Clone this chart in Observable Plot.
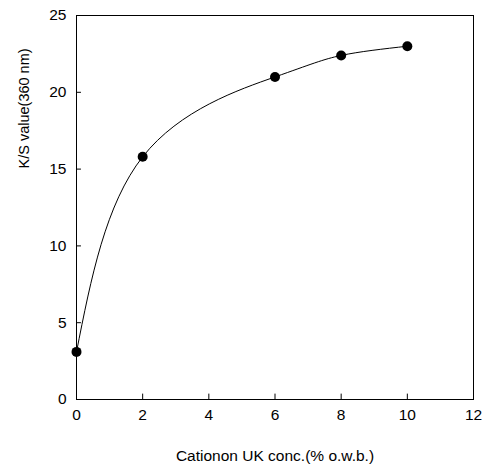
<!DOCTYPE html>
<html><head><meta charset="utf-8">
<script src="https://cdn.jsdelivr.net/npm/d3@7"></script>
<script src="https://cdn.jsdelivr.net/npm/@observablehq/plot@0.6"></script>
<style>body{margin:0;background:#fff;}</style>
</head><body><div id="chart"></div>
<script>
const conc = [0, 2, 6, 8, 10];
const ksValue = [3.1, 15.8, 21.0, 22.4, 23.0];
const xTicks = [0, 2, 4, 6, 8, 10, 12];
const yTicks = [0, 5, 10, 15, 20, 25];
const xLabel = "Cationon UK conc.(% o.w.b.)";
const yLabel = "K/S value(360 nm)";

const data = conc.map((c, i) => ({x: c, y: ksValue[i]}));

const chart = Plot.plot({
  width: 485,
  height: 465,
  marginLeft: 76,
  marginRight: 12,
  marginTop: 15,
  marginBottom: 66,
  style: {fontFamily: "'Liberation Sans', Arial, sans-serif", fontSize: "15.5px", background: "#fff", color: "#000"},
  x: {domain: [0, 12], ticks: xTicks},
  y: {domain: [0, 25], ticks: yTicks},
  marks: [
    Plot.frame({stroke: "#000", strokeWidth: 1}),
    Plot.ruleX(xTicks, {y1: 0, y2: 0.35, stroke: "#000"}),
    Plot.ruleY(yTicks, {x1: 0, x2: 0.15, stroke: "#000"}),
    Plot.axisX({ticks: xTicks, tickSize: 0, tickPadding: 9, fontSize: 15.5, label: xLabel, labelAnchor: "center", labelOffset: 61, labelArrow: "none"}),
    Plot.axisY({ticks: yTicks, tickSize: 0, tickPadding: 10, fontSize: 15.5, label: null}),
    Plot.text([yLabel], {text: d => d, frameAnchor: "left", rotate: -90, dx: -52, dy: -39, fontSize: 14.5, fill: "#000"}),
    Plot.line(data, {x: "x", y: "y", curve: "natural", stroke: "#000", strokeWidth: 1}),
    Plot.dot(data, {x: "x", y: "y", r: 5, fill: "#000", stroke: "none"})
  ]
});
document.getElementById("chart").appendChild(chart);
</script>
</body></html>
